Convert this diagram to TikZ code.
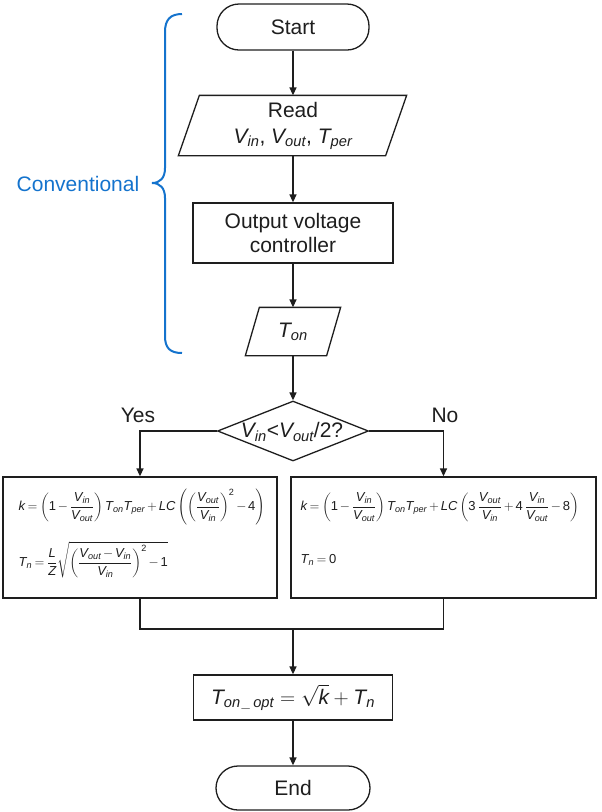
\RequirePackage{fix-cm}
\documentclass[tikz,border=0pt]{standalone}
\usepackage{amsmath}
\usepackage{fontspec}
\setmainfont{Liberation Sans}
\usetikzlibrary{arrows.meta,shapes.geometric,calc}
\definecolor{convblue}{RGB}{20,115,205}
\definecolor{ink}{RGB}{30,30,30}
\newcommand{\iv}[1]{\text{\itshape #1}}
\newcommand{\tx}[1]{\text{\upshape #1}}
\newcommand{\Vs}[2]{\iv{#1}_{\iv{#2}}}
\newcommand{\tightsp}{\medmuskip=2.5mu\relax\thickmuskip=3.5mu\relax}
\begin{document}
\begin{tikzpicture}[x=1pt,y=-1pt,line width=1.3pt,color=ink,
  every node/.style={font=\fontsize{21}{25}\selectfont,text=ink},
  box/.style={draw,rectangle,inner sep=0pt},
  term/.style={draw,rectangle,rounded corners=22pt,inner sep=0pt},
  arr/.style={-{Triangle[length=8pt,width=7pt]}},
  frm/.style={anchor=west,inner sep=0pt,font=\fontsize{13}{15}\selectfont}]
\useasboundingbox (0,0) rectangle (602,812);

% nodes
\node[term,minimum width=152pt,minimum height=46pt] (start) at (293,27) {Start};
\node[minimum width=206pt,minimum height=59pt,inner sep=0pt,align=center,
  font=\fontsize{21}{26}\selectfont] (read) at (293,125.5) {Read\\$\Vs{V}{in}$, $\Vs{V}{out}$, $\Vs{T}{per}$};
\draw ($(read.north west)+(10,0)$) -- ($(read.north east)+(10,0)$)
  -- ($(read.south east)+(-11,0)$) -- ($(read.south west)+(-11,0)$) -- cycle;
\node[box,minimum width=200pt,minimum height=60pt,align=center,
  font=\fontsize{21}{24}\selectfont] (ctrl) at (293,233) {Output voltage\\controller};
\node[minimum width=80pt,minimum height=47pt,inner sep=0pt] (ton) at (293,331.5) {$\Vs{T}{on}$};
\draw ($(ton.north west)+(7,0)$) -- ($(ton.north east)+(7,0)$)
  -- ($(ton.south east)+(-7,0)$) -- ($(ton.south west)+(-7,0)$) -- cycle;
\node[diamond,draw,minimum width=151pt,minimum height=60pt,inner sep=0pt] (dec) at (293,431) {};
\node[inner sep=0pt] (dectext) at (292,432) {$\Vs{V}{in}$<$\Vs{V}{out}$/2?};
\node (yes) at (138,415) {Yes};
\node (no) at (445,415) {No};

\node[box,minimum width=274pt,minimum height=121pt] (lbox) at (140,537.5) {};
\node[box,minimum width=305pt,minimum height=121pt] (rbox) at (443.5,537.5) {};

\node[frm] (lk) at (18,507) {$\displaystyle\tightsp \iv{k} = \left(\tx{1} - \frac{\Vs{V}{in}}{\Vs{V}{out}}\right)\Vs{T}{on}\Vs{T}{per} + \iv{LC}\left(\left(\frac{\Vs{V}{out}}{\Vs{V}{in}}\right)^{\tx{2}} - \tx{4}\right)$};
\node[frm] (ltn) at (18,560) {$\displaystyle\tightsp \Vs{T}{n} = \frac{\iv{L}}{\iv{Z}}\sqrt{\left(\frac{\Vs{V}{out}-\Vs{V}{in}}{\Vs{V}{in}}\right)^{\tx{2}} - \tx{1}}$};
\node[frm] (rk) at (300,507) {$\displaystyle\tightsp \iv{k} = \left(\tx{1} - \frac{\Vs{V}{in}}{\Vs{V}{out}}\right)\Vs{T}{on}\Vs{T}{per} + \iv{LC}\left(\tx{3}\,\frac{\Vs{V}{out}}{\Vs{V}{in}} + \tx{4}\,\frac{\Vs{V}{in}}{\Vs{V}{out}} - \tx{8}\right)$};
\node[frm] (rtn) at (300,560) {$\tightsp\Vs{T}{n} = \tx{0}$};

\coordinate (merge) at (293,629);
\node[box,minimum width=199pt,minimum height=45pt] (final) at (293,697.5) {$\iv{T}_{\iv{on\,\_\,opt}} = \sqrt{\iv{k}} + \Vs{T}{n}$};
\node[term,minimum width=154pt,minimum height=44pt] (end) at (293,788) {End};

% connectors
\draw[arr] (start) -- (read);
\draw[arr] (read) -- (ctrl);
\draw[arr] (ctrl) -- (ton.north);
\draw[arr] (ton.south) -- (dec);
\draw[arr] (dec.west) -| (lbox.north);
\draw[arr] (dec.east) -| (rbox.north);
\draw (lbox.south) |- (merge);
\draw (rbox.south) |- (merge);
\draw[arr] (merge) -- (final);
\draw[arr] (final) -- (end);

% brace
\draw[convblue,line width=2pt] (182,14) .. controls (170,14) and (165,20) .. (165,32) -- (165,168)
  .. controls (165,178) and (160,183) .. (152,183)
  .. controls (160,183) and (165,188) .. (165,198) -- (165,336)
  .. controls (165,348) and (170,353) .. (182,353);
\node[text=convblue] (conv) at (78,184) {Conventional};
\end{tikzpicture}
\end{document}
